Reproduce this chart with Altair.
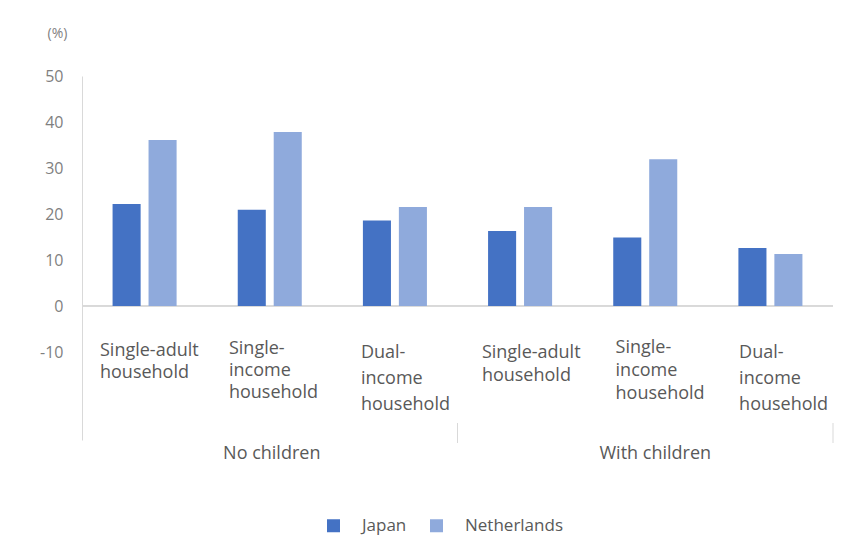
import altair as alt
import pandas as pd

# ---- data ----
groups = ["No children", "No children", "No children",
          "With children", "With children", "With children"]
households = ["Single-adult household", "Single-income household", "Dual-income household",
              "Single-adult household", "Single-income household", "Dual-income household"]
label_lines = ["Single-adult\nhousehold", "Single-\nincome\nhousehold", "Dual-\nincome\nhousehold",
               "Single-adult\nhousehold", "Single-\nincome\nhousehold", "Dual-\nincome\nhousehold"]
countries = ["Japan", "Netherlands"]
japan = [22.2, 20.9, 18.6, 16.3, 14.9, 12.6]
netherlands = [36.1, 37.8, 21.5, 21.5, 31.9, 11.3]
y_ticks = [-10, 0, 10, 20, 30, 40, 50]
group_names = ["No children", "With children"]

cats = [f"{g}|{h}" for g, h in zip(groups, households)]

rows = []
for c, j, n in zip(cats, japan, netherlands):
    rows.append({"cat": c, "country": "Japan", "value": j})
    rows.append({"cat": c, "country": "Netherlands", "value": n})
bars_df = pd.DataFrame(rows)

FONT = "Open Sans"
TEXT = "#595959"
x_scale = alt.Scale(domain=cats, paddingInner=0, paddingOuter=0)
y_scale = alt.Scale(domain=[-29.13, 50], nice=False, zero=False)

zero_line = alt.Chart(bars_df).mark_rule(color="#d9d9d9", strokeWidth=1).encode(
    y=alt.datum(0, scale=y_scale)
)

bars = alt.Chart(bars_df).mark_bar().encode(
    x=alt.X("cat:N", scale=x_scale, axis=None),
    xOffset=alt.XOffset("country:N", scale=alt.Scale(domain=countries, paddingInner=0.22, paddingOuter=0.85)),
    y=alt.Y("value:Q", scale=y_scale,
            axis=alt.Axis(values=y_ticks, ticks=False, grid=False, domainColor="#d9d9d9",
                          labelExpr="'' + datum.value",
                          labelColor="#7f7f7f", labelFontSize=16, labelFont=FONT, labelPadding=19,
                          title="(%)", titleAngle=0, titleX=-25, titleY=-43, titleAlign="center",
                          titleBaseline="middle", titleFontSize=14, titleFontWeight="normal",
                          titleColor="#7f7f7f", titleFont=FONT)),
    color=alt.Color("country:N", scale=alt.Scale(domain=countries, range=["#4472c4", "#8faadc"]),
                    legend=alt.Legend(title=None, orient="none", direction="horizontal",
                                      legendX=243, legendY=441, symbolType="square", symbolSize=169,
                                      symbolStrokeWidth=0, labelFontSize=17, labelColor=TEXT,
                                      labelFont=FONT, columnPadding=21, labelOffset=20, padding=0)),
)

layers = [zero_line, bars]

# category labels (left aligned, per-label layout)
dxs = [-44.6, -40.8, -34.0, -38.2, -29.7, -31.3]
tops = [266, 264, 268, 268, 263, 268]
lhs = [22, 22, 26, 23, 23, 26]
for i in range(6):
    d = pd.DataFrame({"cat": [cats[i]], "label": [label_lines[i]]})
    layers.append(
        alt.Chart(d).mark_text(align="left", baseline="top", dx=dxs[i], lineBreak="\n",
                               lineHeight=lhs[i], fontSize=18, font=FONT, color=TEXT).encode(
            x=alt.X("cat:N", scale=x_scale, axis=None),
            y=alt.value(tops[i]),
            text="label:N",
        )
    )

# group labels
anchors = [cats[1], cats[4]]
gdx = [2, 10]
for g, a, dx in zip(group_names, anchors, gdx):
    d = pd.DataFrame({"cat": [a], "label": [g]})
    layers.append(
        alt.Chart(d).mark_text(align="center", baseline="middle", dx=dx, fontSize=18,
                               font=FONT, color=TEXT).encode(
            x=alt.X("cat:N", scale=x_scale, axis=None),
            y=alt.value(378),
            text="label:N",
        )
    )

# group separators
sep_df = pd.DataFrame({"cat": [cats[2], cats[5]]})
layers.append(
    alt.Chart(sep_df).mark_rule(color="#d9d9d9", strokeWidth=1).encode(
        x=alt.X("cat:N", scale=x_scale, axis=None, bandPosition=1),
        y=alt.value(347),
        y2=alt.value(367),
    )
)

chart = alt.layer(*layers).properties(
    width=751, height=364,
    autosize=alt.AutoSizeParams(type="none"),
    padding={"left": 74, "top": 68, "right": 3, "bottom": 98},
    background="white",
).configure_view(stroke=None)

chart.save("out.html", embed_options={"renderer": "svg", "actions": False})
